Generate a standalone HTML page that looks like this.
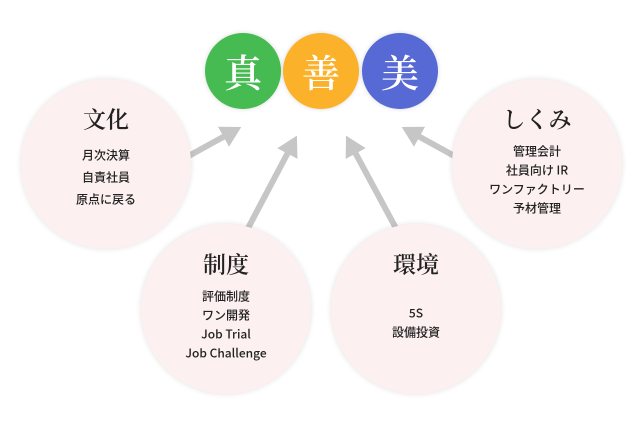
<!DOCTYPE html>
<html><head><meta charset="utf-8"><style>
html,body{margin:0;padding:0;background:#fff;}
body{width:640px;height:427px;position:relative;overflow:hidden;font-family:"Liberation Sans","Noto Sans CJK JP",sans-serif;}
.c{position:absolute;border-radius:50%;background:#fcf0f0;box-shadow:0 0 6px rgba(0,0,0,0.12);}
.t{position:absolute;width:200px;text-align:center;transform:translate(-50%,-50%);white-space:nowrap;}
.h{font-family:"Noto Serif CJK SC","Noto Serif CJK JP",serif;font-size:23px;color:#222;font-weight:600;}
.i{font-size:12px;color:#222;font-family:"Noto Sans CJK JP",sans-serif;font-weight:500;}
.v{position:absolute;width:76px;height:76px;border-radius:50%;box-shadow:0 0 5px rgba(0,0,0,0.15);color:#fff;font-family:"Noto Serif CJK SC","Noto Serif CJK JP",serif;font-weight:600;font-size:38px;line-height:76px;text-align:center;}
</style></head><body>
<svg width="640" height="427" style="position:absolute;left:0;top:0">
<defs><marker id="a" markerWidth="4" markerHeight="4" refX="2" refY="2" orient="auto" markerUnits="strokeWidth"><path d="M0,0.1 L3.4,2 L0,3.9 Z" fill="#c6c6c6"/></marker></defs>
<g stroke="#c6c6c6" stroke-width="6" fill="none">
<line x1="185" y1="158" x2="234" y2="131" marker-end="url(#a)"/>
<line x1="246" y1="232" x2="293" y2="143" marker-end="url(#a)"/>
<line x1="398" y1="232" x2="350" y2="143" marker-end="url(#a)"/>
<line x1="458" y1="158" x2="409" y2="131" marker-end="url(#a)"/>
</g></svg>
<div class="v" style="left:205px;top:33px;background:#46bb51">真</div>
<div class="v" style="left:283px;top:33px;background:#fbb12a">善</div>
<div class="v" style="left:362px;top:33px;background:#5669d5">美</div>

<div class="c" style="left:21px;top:79px;width:170px;height:170px"></div>
<div class="c" style="left:452px;top:79px;width:170px;height:170px"></div>
<div class="c" style="left:141px;top:224px;width:170px;height:170px"></div>
<div class="c" style="left:331px;top:224px;width:170px;height:170px"></div>

<div class="t h" style="left:106px;top:118px">文化</div>
<div class="t i" style="left:106px;top:155px">月次決算</div>
<div class="t i" style="left:106px;top:177px">自責社員</div>
<div class="t i" style="left:106px;top:199px">原点に戻る</div>

<div class="t h" style="left:537px;top:118px">しくみ</div>
<div class="t i" style="left:537px;top:151px">管理会計</div>
<div class="t i" style="left:537px;top:170px">社員向け IR</div>
<div class="t i" style="left:537px;top:189px">ワンファクトリー</div>
<div class="t i" style="left:537px;top:208px">予材管理</div>

<div class="t h" style="left:226px;top:263px">制度</div>
<div class="t i" style="left:226px;top:296px">評価制度</div>
<div class="t i" style="left:226px;top:315px">ワン開発</div>
<div class="t i" style="left:226px;top:334px">Job Trial</div>
<div class="t i" style="left:226px;top:353px">Job Challenge</div>

<div class="t h" style="left:416px;top:263px">環境</div>
<div class="t i" style="left:416px;top:313px">5S</div>
<div class="t i" style="left:416px;top:332px">設備投資</div>
</body></html>
